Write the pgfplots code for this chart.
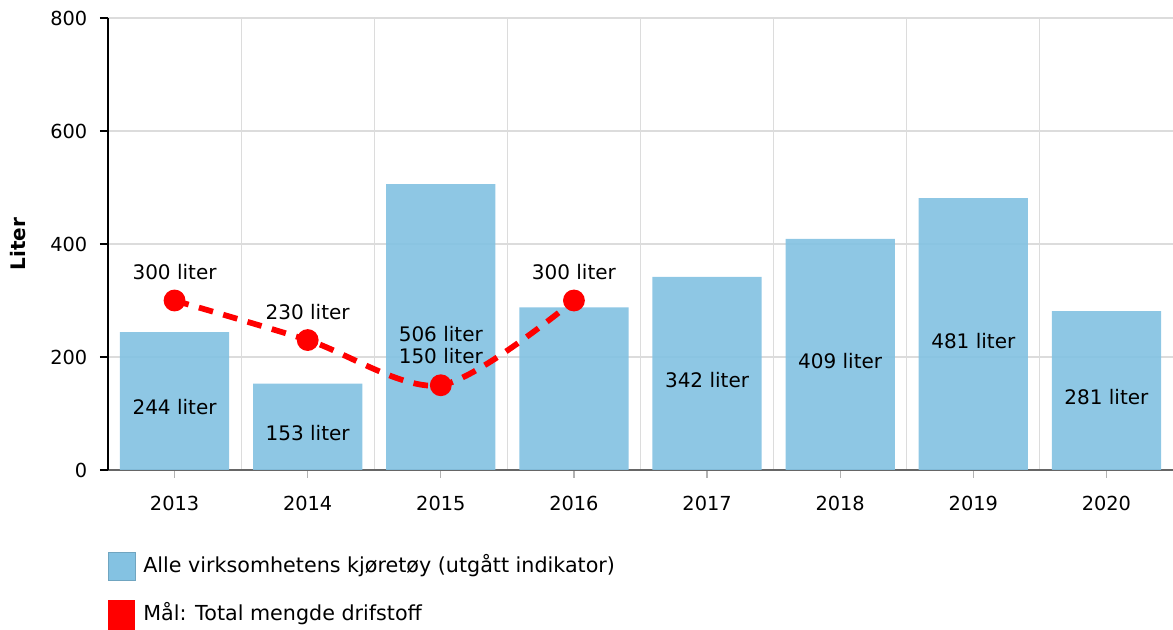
\documentclass[border=0pt]{standalone}
\usepackage{fontspec}
\setmainfont{DejaVu Sans}
\usepackage{pgfplots}
\pgfplotsset{compat=1.18}
\definecolor{barblue}{HTML}{84C2E2}
\definecolor{gridc}{HTML}{DCDCDC}
\definecolor{goalred}{HTML}{FF0000}

\pgfplotstableread{
x   y    ly     lab
0   244  111.5  {244 liter}
1   153  65.5   {153 liter}
2   506  240.7  {506 liter}
3   288  0      {}
4   342  159    {342 liter}
5   409  193    {409 liter}
6   481  228    {481 liter}
7   281  129    {281 liter}
}\bars

\pgfplotstableread{
x   y    ly    lab
0   300  350   {300 liter}
1   230  280   {230 liter}
2   150  202   {150 liter}
3   300  350   {300 liter}
}\goal

\begin{document}
\begin{tikzpicture}
\begin{axis}[
  width=798.75pt, height=339pt, scale only axis,
  xmin=-0.5, xmax=7.5, ymin=0, ymax=800,
  xtick={0,...,7},
  xticklabels={2013,2014,2015,2016,2017,2018,2019,2020},
  minor xtick={0.5,1.5,...,6.5},
  ytick={0,200,...,800},
  ymajorgrids, minor x grid style={gridc, line width=0.9pt},
  xminorgrids, major grid style={gridc, line width=0.9pt},
  axis x line*=bottom, axis y line*=left,
  x axis line style={draw=black!60, line width=0.9pt, -},
  y axis line style={draw=black, line width=0.9pt, -},
  tick align=outside,
  major tick length=6pt, minor tick length=0pt,
  xtick style={draw=black!30, line width=0.9pt},
  ytick style={draw=black, line width=0.9pt},
  tick label style={font=\fontsize{14.5}{16}\selectfont},
  xticklabel style={yshift=-10pt},
  yticklabel style={xshift=-6pt},
  /pgf/number format/assume math mode=true,
  ylabel={\textbf{Liter}},
  ylabel style={font=\fontsize{15}{17}\selectfont, yshift=11.5pt},
  clip=false,
]
\coordinate (O) at (rel axis cs:0,0);
\addplot[ybar, bar width=0.82, draw=none, fill=barblue, fill opacity=0.92, bar shift=0pt]
  table[x=x, y=y] {\bars};
\addplot[only marks, mark=none, nodes near coords, point meta=explicit symbolic,
  every node near coord/.style={anchor=center, font=\fontsize{15}{17}\selectfont}]
  table[x=x, y=ly, meta=lab] {\bars};
\addplot[goalred, line width=4.3pt, smooth, dash pattern=on 11pt off 8pt,
  mark=*, mark size=6pt, mark options={solid, fill=goalred, draw=none}]
  table[x=x, y=y] {\goal};
\addplot[only marks, mark=none, nodes near coords, point meta=explicit symbolic,
  every node near coord/.style={anchor=center, font=\fontsize{15}{17}\selectfont}]
  table[x=x, y=ly, meta=lab] {\goal};
\end{axis}
% legend
\fill[barblue, draw=barblue!85!black, line width=0.6pt] ([yshift=-61.5pt]O) rectangle ++(20.25pt,-21pt);
\node[anchor=west, inner sep=0pt, font=\fontsize{15.5}{17}\selectfont] at ([xshift=26.25pt, yshift=-72pt]O) {Alle virksomhetens kjøretøy (utgått indikator)};
\fill[goalred] ([yshift=-97.5pt]O) rectangle ++(20.25pt,-22.5pt);
\node[anchor=west, inner sep=0pt, font=\fontsize{15.5}{17}\selectfont] at ([xshift=26.25pt, yshift=-108pt]O) {Mål: Total mengde drifstoff};
\pgfresetboundingbox
\path ([xshift=-81pt, yshift=-120pt]O) rectangle ++(879.75pt, 472.5pt);
\end{tikzpicture}
\end{document}
